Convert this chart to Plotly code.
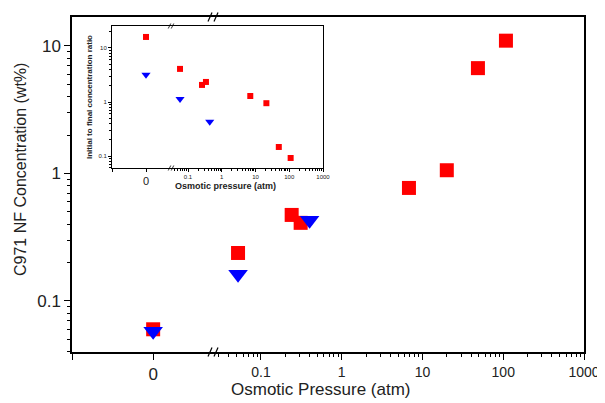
import plotly.graph_objects as go

# ---- data ----
# Main plot: C971 NF concentration (wt%) vs osmotic pressure (atm)
red_zero_y = [0.060]
red_x = [0.052, 0.24, 0.31, 6.8, 20, 48.6, 108]
red_y = [0.238, 0.473, 0.41, 0.77, 1.06, 6.7, 11.0]
blue_zero_y = [0.058]
blue_x = [0.052, 0.40]
blue_y = [0.162, 0.43]

# Inset: initial to final concentration ratio
in_red_zero_y = [16.0]
in_red_x = [0.058, 0.26, 0.34, 7.0, 21, 49, 110]
in_red_y = [4.1, 2.07, 2.35, 1.29, 0.95, 0.147, 0.092]
in_blue_zero_y = [3.2]
in_blue_x = [0.058, 0.44]
in_blue_y = [1.14, 0.43]

x_tickvals = [0.1, 1, 10, 100, 1000]
x_ticktext = ["0.1", "1", "10", "100", "1000"]
y_tickvals = [0.1, 1, 10]
y_ticktext = ["0.1", "1", "10"]

RED = "#ff0000"
BLUE = "#0000ff"
FONT = "Liberation Sans, Arial, sans-serif"

fig = go.Figure()

def sq(size):
    return dict(symbol="square", color=RED, size=size, line=dict(width=0))

def tri(size):
    return dict(symbol="triangle-down", color=BLUE, size=size, line=dict(width=0))

# main
fig.add_trace(go.Scatter(x=[0], y=red_zero_y, mode="markers", marker=sq(14), xaxis="x", yaxis="y"))
fig.add_trace(go.Scatter(x=[0], y=blue_zero_y, mode="markers", marker=tri(17), xaxis="x", yaxis="y"))
fig.add_trace(go.Scatter(x=red_x, y=red_y, mode="markers", marker=sq(14), xaxis="x2", yaxis="y2"))
fig.add_trace(go.Scatter(x=blue_x, y=blue_y, mode="markers", marker=tri(17), xaxis="x2", yaxis="y2"))
# inset
fig.add_trace(go.Scatter(x=[0], y=in_red_zero_y, mode="markers", marker=sq(6), xaxis="x3", yaxis="y3"))
fig.add_trace(go.Scatter(x=[0], y=in_blue_zero_y, mode="markers", marker=tri(8), xaxis="x3", yaxis="y3"))
fig.add_trace(go.Scatter(x=in_red_x, y=in_red_y, mode="markers", marker=sq(6), xaxis="x4", yaxis="y4"))
fig.add_trace(go.Scatter(x=in_blue_x, y=in_blue_y, mode="markers", marker=tri(8), xaxis="x4", yaxis="y4"))

# page-pixel geometry of the main plot area (page has an 8px body margin)
OFF = 8
L, R, T, B = 72, 584, 17, 352
PW, PH = R - L, B - T

def px(xp):
    return (xp - L) / PW

def py(yp):
    return (B - yp) / PH

brk = px(213)
ax_common = dict(showline=True, linecolor="black", showgrid=False, zeroline=False,
                 ticks="outside", tickcolor="black", automargin=False)

# inset geometry
iL, iR, iT, iB, iBrk = 112, 323, 26, 168, 171

fig.update_layout(
    width=605 - OFF, height=403 - OFF,
    margin=dict(l=L - OFF, r=605 - R, t=T - OFF, b=403 - B, autoexpand=False),
    paper_bgcolor="white", plot_bgcolor="white",
    showlegend=False,
    font=dict(family=FONT, color="#222"),
    xaxis=dict(**ax_common, domain=[0, brk], anchor="y", type="linear",
               range=[-1, 0.7375], tickvals=[-1, 0], ticktext=["", "0"],
               ticklen=6, linewidth=1.5, mirror=True, tickfont=dict(size=17)),
    xaxis2=dict(**ax_common, domain=[brk, 1], anchor="y2", type="log",
                range=[-1.594, 3], tickvals=x_tickvals, ticktext=x_ticktext,
                ticklen=6, linewidth=1.5, mirror=True, tickfont=dict(size=14),
                minor=dict(ticks="outside", ticklen=3, dtick="D1", tickcolor="black")),
    yaxis=dict(**ax_common, domain=[0, 1], anchor="x", type="log",
               range=[-1.4, 1.227], tickvals=y_tickvals, ticktext=y_ticktext,
               ticklen=6, linewidth=1.5, tickfont=dict(size=17),
               minor=dict(ticks="outside", ticklen=3, dtick="D1", tickcolor="black")),
    yaxis2=dict(showline=True, linecolor="black", linewidth=1.5, showgrid=False,
                zeroline=False, domain=[0, 1], anchor="x2", side="right", type="log",
                range=[-1.4, 1.227], showticklabels=False, ticks="", automargin=False),
    xaxis3=dict(**ax_common, domain=[px(iL), px(iBrk)], anchor="y3", type="linear",
                range=[-1, 0.7353], tickvals=[-1, 0], ticktext=["", "0"],
                ticklen=3, linewidth=1, mirror=True, tickfont=dict(size=11)),
    xaxis4=dict(**ax_common, domain=[px(iBrk), px(iR)], anchor="y4", type="log",
                range=[-1.504, 3], tickvals=x_tickvals, ticktext=x_ticktext,
                ticklen=3, linewidth=1, mirror=True, tickfont=dict(size=6),
                minor=dict(ticks="outside", ticklen=2, dtick="D1", tickcolor="black")),
    yaxis3=dict(**ax_common, domain=[py(iB), py(iT)], anchor="x3", type="log",
                range=[-1.222, 1.407], tickvals=y_tickvals, ticktext=y_ticktext,
                ticklen=3, linewidth=1, tickfont=dict(size=6),
                minor=dict(ticks="outside", ticklen=2, dtick="D1", tickcolor="black")),
    yaxis4=dict(showline=True, linecolor="black", linewidth=1, showgrid=False,
                zeroline=False, domain=[py(iB), py(iT)], anchor="x4", side="right",
                type="log", range=[-1.222, 1.407], showticklabels=False, ticks="",
                automargin=False),
)

def ann(text, xp, yp, size, angle=0):
    return dict(text=text, xref="paper", yref="paper", x=px(xp), y=py(yp),
                xanchor="center", yanchor="middle", textangle=angle,
                showarrow=False, font=dict(size=size, color="#222"))

annotations = [
    ann("Osmotic Pressure (atm)", 320, 389, 17),
    ann("C971 NF Concentration (wt%)", 20, 170, 16, -90),
    ann("<b>Osmotic pressure (atm)</b>", 225, 186, 9),
    ann("<b>Initial to final concentration ratio</b>", 89, 97, 8, -90),
]
fig.update_layout(annotations=annotations)

# axis break marks "//"
shapes = []
def brk_marks(xp, yp, h, w, gap, width):
    for off in (-gap / 2, gap / 2):
        shapes.append(dict(type="line", xref="paper", yref="paper",
                           xsizemode="pixel", ysizemode="pixel",
                           xanchor=px(xp), yanchor=py(yp),
                           x0=off - w / 2, x1=off + w / 2, y0=-h / 2, y1=h / 2,
                           line=dict(color="black", width=width)))
brk_marks(213, B, 9, 4, 6, 1.2)
brk_marks(213, T, 9, 4, 6, 1.2)
brk_marks(iBrk, iB, 5, 2.5, 3, 0.8)
brk_marks(iBrk, iT, 5, 2.5, 3, 0.8)
fig.update_layout(shapes=shapes)

fig.write_html("out.html")
